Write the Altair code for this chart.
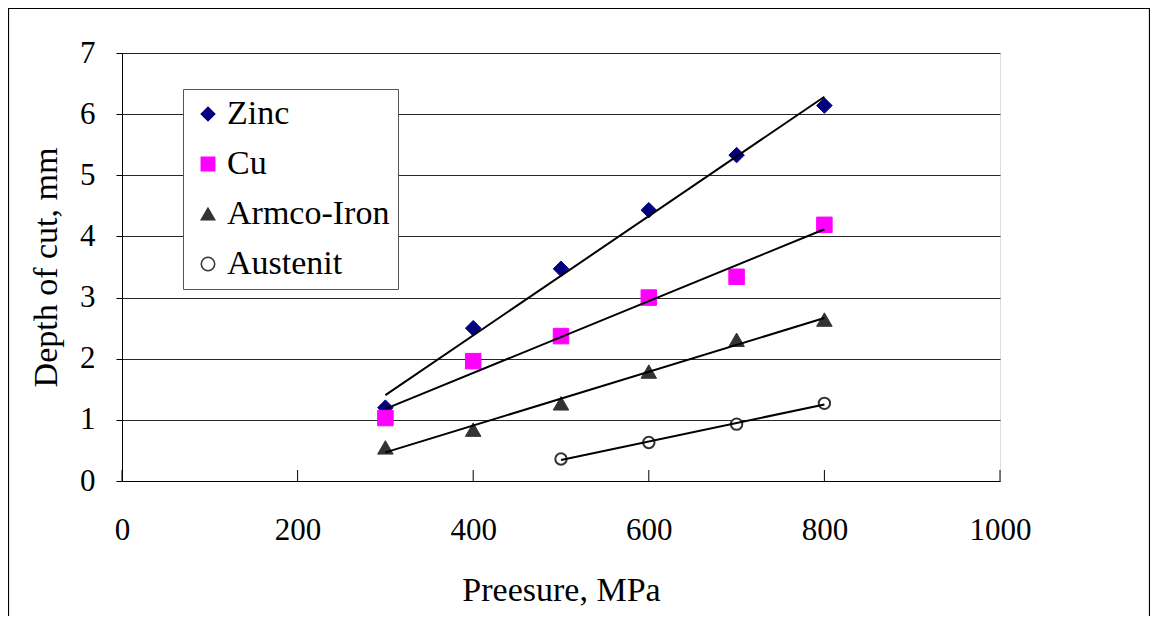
import altair as alt
import pandas as pd

pressure = [300, 400, 500, 600, 700, 800]
zinc = [1.20, 2.50, 3.47, 4.43, 5.33, 6.14]
cu = [1.03, 1.96, 2.37, 3.00, 3.34, 4.19]
armco = [0.55, 0.84, 1.27, 1.79, 2.31, 2.64]
austenit_pressure = [500, 600, 700, 800]
austenit = [0.36, 0.63, 0.93, 1.27]

series_names = ["Zinc", "Cu", "Armco-Iron", "Austenit"]
fills = ["#000080", "#FF00FF", "#333333", "#FFFFFF"]
strokes = ["#000080", "#FF00FF", "#333333", "#333333"]
shapes = ["diamond", "square", "triangle-up", "circle"]
x_ticks = [0, 200, 400, 600, 800, 1000]
y_ticks = [0, 1, 2, 3, 4, 5, 6, 7]

rows = []
for name, vals in [("Zinc", zinc), ("Cu", cu), ("Armco-Iron", armco)]:
    for p, v in zip(pressure, vals):
        rows.append({"series": name, "pressure": p, "depth": v})
for p, v in zip(austenit_pressure, austenit):
    rows.append({"series": "Austenit", "pressure": p, "depth": v})
df = pd.DataFrame(rows)

W, H = 878, 428
FONT = "Liberation Serif"

x_enc = alt.X("pressure:Q", scale=alt.Scale(domain=[0, 1000], nice=False),
              axis=alt.Axis(values=x_ticks, title="Preesure, MPa", grid=False,
                            format="d", tickSize=0, labelPadding=34, titlePadding=28,
                            labelFontSize=31, titleFontSize=34,
                            labelFont=FONT, titleFont=FONT, labelColor="black",
                            titleColor="black", titleFontWeight="normal",
                            domainColor="black", labelFlush=False))
y_enc = alt.Y("depth:Q", scale=alt.Scale(domain=[0, 7], nice=False),
              axis=alt.Axis(values=y_ticks, title="Depth of cut, mm", grid=True,
                            format="d", gridColor="black", gridWidth=1, gridOpacity=0.85,
                            tickSize=6, tickColor="black", labelPadding=21,
                            titlePadding=16, labelFontSize=31, titleFontSize=34,
                            labelFont=FONT, titleFont=FONT, labelColor="black",
                            titleColor="black", titleFontWeight="normal",
                            domainColor="black"))

leg = alt.Legend(title=None, orient="none", legendX=61, legendY=36,
                 strokeColor="#555555", fillColor="white", padding=8,
                 labelFont=FONT, labelFontSize=34, labelColor="black",
                 symbolSize=180, rowPadding=16, labelOffset=2,
                 symbolStrokeWidth=1.5, labelLimit=400)

points_main = alt.Chart(df).transform_filter(
    alt.datum.series != "Austenit"
).mark_point(opacity=1, size=240, strokeWidth=1).encode(
    x=x_enc,
    y=y_enc,
    fill=alt.Fill("series:N", scale=alt.Scale(domain=series_names, range=fills), legend=leg),
    stroke=alt.Stroke("series:N", scale=alt.Scale(domain=series_names, range=strokes), legend=leg),
    shape=alt.Shape("series:N", scale=alt.Scale(domain=series_names, range=shapes), legend=leg),
)

points_aus = alt.Chart(df).transform_filter(
    alt.datum.series == "Austenit"
).mark_point(opacity=1, size=130, strokeWidth=2).encode(
    x="pressure:Q",
    y="depth:Q",
    fill=alt.Fill("series:N", scale=alt.Scale(domain=series_names, range=fills), legend=leg),
    stroke=alt.Stroke("series:N", scale=alt.Scale(domain=series_names, range=strokes), legend=leg),
    shape=alt.Shape("series:N", scale=alt.Scale(domain=series_names, range=shapes), legend=leg),
)

trend = alt.Chart(df).transform_regression(
    "pressure", "depth", groupby=["series"], method="linear"
).mark_line(color="black", strokeWidth=2).encode(
    x="pressure:Q", y="depth:Q", detail="series:N"
)

tick_df = pd.DataFrame({"pressure": x_ticks})
xticks = alt.Chart(tick_df).mark_rule(color="black", strokeWidth=1).encode(
    x="pressure:Q", y=alt.value(H - 11), y2=alt.value(H)
)

frame = alt.Chart(pd.DataFrame({"a": [0]})).mark_rect(
    filled=False, stroke="black", strokeWidth=1.2, clip=False
).encode(
    x=alt.value(-113.5), x2=alt.value(1027.5), y=alt.value(-44.5), y2=alt.value(566)
)

chart = alt.layer(frame, xticks, points_main, points_aus, trend).properties(
    width=W, height=H,
    autosize=alt.AutoSizeParams(type="none"),
    padding={"left": 114, "top": 45, "right": 150, "bottom": 135},
).configure_view(
    stroke="#808080", strokeWidth=1
).configure(background="white")

chart.save("out.html", embed_options={"renderer": "svg", "actions": False})
